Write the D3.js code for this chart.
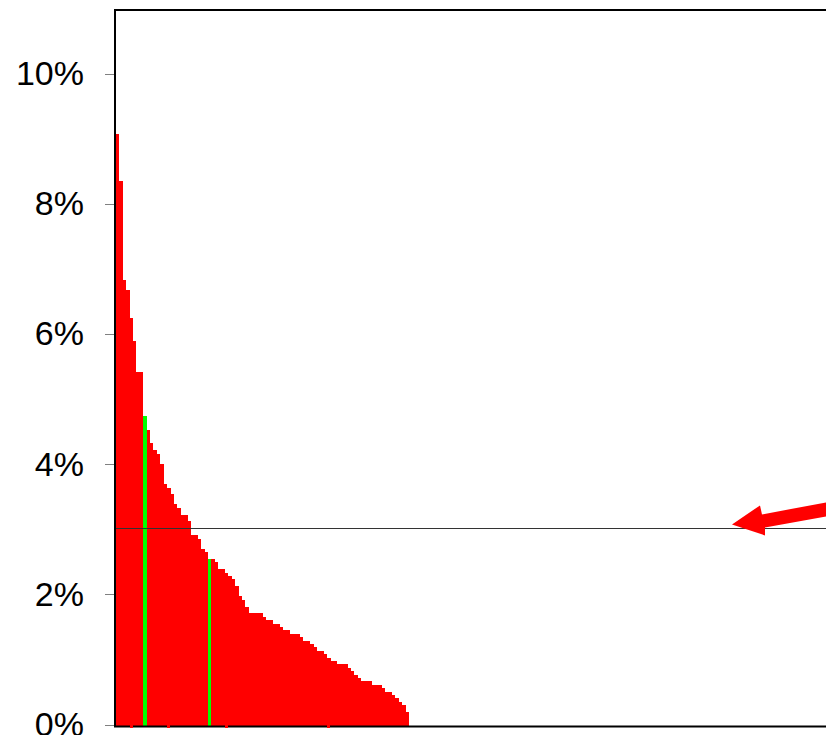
<!DOCTYPE html>
<html><head><meta charset="utf-8">
<script src="https://cdn.jsdelivr.net/npm/d3@7"></script>
<style>body{margin:0;background:#fff}svg{display:block}</style>
</head><body>
<svg id="c" width="826" height="735"></svg>
<script>
// share of each unit, sorted descending (%)
const shares = [9.09,8.37,6.85,6.70,6.26,5.91,5.43,5.43,4.76,4.54,4.34,4.24,4.17,4.02,3.71,3.65,3.56,3.41,3.34,3.24,3.24,3.14,2.93,2.93,2.87,2.71,2.67,2.56,2.56,2.51,2.41,2.41,2.34,2.30,2.25,2.15,1.99,1.93,1.82,1.73,1.73,1.73,1.73,1.67,1.62,1.62,1.56,1.56,1.51,1.47,1.47,1.41,1.41,1.41,1.36,1.30,1.30,1.25,1.21,1.15,1.15,1.10,1.04,0.99,0.99,0.95,0.95,0.95,0.88,0.84,0.78,0.73,0.68,0.68,0.68,0.62,0.62,0.62,0.58,0.52,0.52,0.47,0.42,0.36,0.32,0.21];
const highlighted = [8, 27];
const markedIdx = [4, 15, 32, 62];
const yTicks = [0, 2, 4, 6, 8, 10];
const refLevel = 3.03;
const totalSlots = 230;
const yMax = 11;

(function () {
const svg = d3.select("#c");
const mLeft = 116, mBottom = 725.5, mTop = 10;
const x = d3.scaleLinear().domain([0, totalSlots]).range([mLeft, mLeft + totalSlots * 3.407]);
const y = d3.scaleLinear().domain([0, yMax]).range([mBottom, mTop]);

// bars
svg.append("g").attr("shape-rendering", "crispEdges")
  .selectAll("rect").data(shares).join("rect")
  .attr("x", (d, i) => Math.round(x(i)))
  .attr("width", (d, i) => Math.round(x(i + 1)) - Math.round(x(i)))
  .attr("y", d => Math.round(y(d)))
  .attr("height", d => Math.round(mBottom) - Math.round(y(d)))
  .attr("fill", (d, i) => highlighted.includes(i) ? "#00ff00" : "#ff0000");

// reference line
svg.append("line")
  .attr("x1", mLeft).attr("x2", 826)
  .attr("y1", Math.round(y(refLevel)) + 0.5).attr("y2", Math.round(y(refLevel)) + 0.5)
  .attr("stroke", "#333").attr("stroke-width", 1);

// frame
svg.append("line").attr("x1", 115).attr("x2", 115).attr("y1", mTop - 1).attr("y2", 727)
  .attr("stroke", "#000").attr("stroke-width", 2);
svg.append("line").attr("x1", 114).attr("x2", 826).attr("y1", mTop).attr("y2", mTop)
  .attr("stroke", "#000").attr("stroke-width", 2);
svg.append("line").attr("x1", 114).attr("x2", 826).attr("y1", 726.5).attr("y2", 726.5)
  .attr("stroke", "#000").attr("stroke-width", 2);

// small red marks on the base line
svg.append("g").selectAll("rect").data(markedIdx).join("rect")
  .attr("x", i => Math.round(x(i))).attr("width", 3)
  .attr("y", 725).attr("height", 3).attr("fill", "#ff0000");

// y axis ticks and labels
const yAxis = svg.append("g");
yAxis.selectAll("line").data(yTicks).join("line")
  .attr("x1", 105).attr("x2", 114)
  .attr("y1", d => Math.round(y(d)) - 0.5).attr("y2", d => Math.round(y(d)) - 0.5)
  .attr("stroke", "#808080").attr("stroke-width", 1);
yAxis.selectAll("text").data(yTicks).join("text")
  .attr("x", 84).attr("y", d => y(d))
  .attr("dy", "0.3em")
  .attr("text-anchor", "end")
  .attr("font-family", "Liberation Sans, Arial, sans-serif")
  .attr("font-size", 34)
  .attr("fill", "#000")
  .text(d => d + "%");

// arrow annotation pointing at the reference line
const ty = y(refLevel) - 4;
svg.append("path")
  .attr("d", `M732,${ty} L760,${ty - 19} L762,${ty - 10} L826,${ty - 22} L826,${ty - 8} L765,${ty + 3} L765,${ty + 11} Z`)
  .attr("fill", "#ff0000");
})();
</script>
</body></html>
